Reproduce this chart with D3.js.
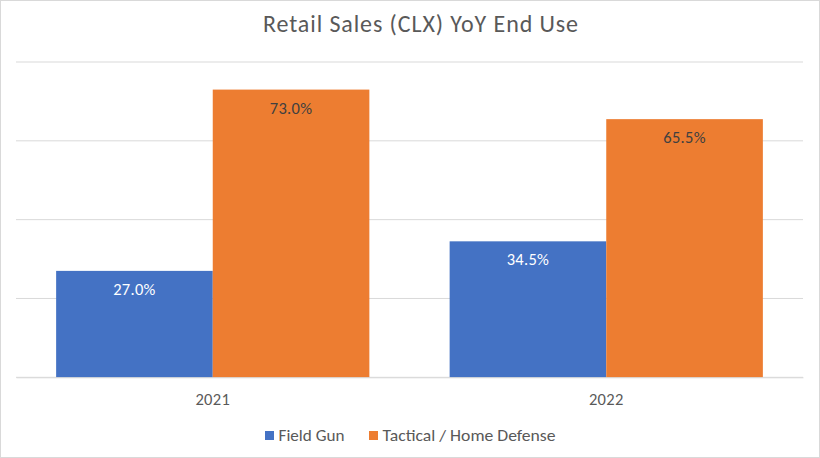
<!DOCTYPE html>
<html><head><meta charset="utf-8">
<script src="https://cdn.jsdelivr.net/npm/d3@7"></script>
<style>body{margin:0;background:#fff}svg{display:block}text{font-family:Carlito,Calibri,"Open Sans","Liberation Sans",sans-serif}</style>
</head><body><svg id="c" width="820" height="458"></svg>
<script>
const categories = ["2021", "2022"];
const seriesNames = ["Field Gun", "Tactical / Home Defense"];
const fieldGun = [27.0, 34.5];
const tactical = [73.0, 65.5];
const yTicks = [0, 20, 40, 60, 80];
const colors = ["#4472C4", "#ED7D31"];
const labelColors = ["#ffffff", "#404040"];

(function(){
const svg = d3.select("#c");
const W = 820, H = 458;
const FS = 16.5;
svg.append("rect").attr("x",0.5).attr("y",0.5).attr("width",W-1).attr("height",H-1)
  .attr("fill","#fff").attr("stroke","#d9d9d9");

const pLeft = 16, pRight = 803, pTop = 62, pBottom = 377.3;
const x0 = d3.scaleBand().domain(categories).range([pLeft, pRight]).paddingInner(0.204).paddingOuter(0.102);
const x1 = d3.scaleBand().domain(seriesNames).range([0, x0.bandwidth()]);
const y = d3.scaleLinear().domain([0, 80]).range([pBottom, pTop]);

svg.append("g").selectAll("line").data(yTicks).join("line")
  .attr("x1", pLeft).attr("x2", pRight)
  .attr("y1", d => y(d)).attr("y2", d => y(d))
  .attr("stroke", "#d9d9d9").attr("stroke-width", 1);

const data = categories.map((c, i) => ({cat: c, vals: [fieldGun[i], tactical[i]]}));
const groups = svg.append("g").selectAll("g").data(data).join("g")
  .attr("transform", d => `translate(${x0(d.cat)},0)`);
groups.selectAll("rect").data(d => d.vals.map((v, j) => ({v, j}))).join("rect")
  .attr("x", d => x1(seriesNames[d.j])).attr("width", x1.bandwidth())
  .attr("y", d => y(d.v)).attr("height", d => y(0) - y(d.v))
  .attr("fill", d => colors[d.j]);
groups.selectAll("text").data(d => d.vals.map((v, j) => ({v, j}))).join("text")
  .attr("x", d => x1(seriesNames[d.j]) + x1.bandwidth()/2)
  .attr("y", d => y(d.v) + 24)
  .attr("text-anchor", "middle").attr("font-size", FS)
  .attr("letter-spacing", 0.3)
  .attr("fill", d => labelColors[d.j])
  .text(d => d.v.toFixed(1) + "%");

const xAxis = svg.append("g").attr("transform", `translate(0,${pBottom})`)
  .call(d3.axisBottom(x0).tickSize(0).tickPadding(16));
xAxis.select(".domain").attr("stroke", "#d9d9d9");
xAxis.selectAll("text").attr("font-size", FS).attr("fill", "#595959").attr("letter-spacing", 0.3)
  .style("font-family", "Carlito,Calibri,'Open Sans','Liberation Sans',sans-serif");

svg.append("text").attr("x", 263).attr("y", 32)
  .attr("font-size", 24).attr("textLength", 315).attr("lengthAdjust", "spacing")
  .attr("fill", "#595959").text("Retail Sales (CLX) YoY End Use");

const leg = svg.append("g");
const legX = [265, 369];
const legW = [66, 173];
seriesNames.forEach((s, i) => {
  leg.append("rect").attr("x", legX[i]).attr("y", 431).attr("width", 9).attr("height", 9).attr("fill", colors[i]);
  leg.append("text").attr("x", legX[i] + 13.5).attr("y", 440.5).attr("font-size", i === 0 ? FS : 15.5)
    .attr("textLength", legW[i]).attr("lengthAdjust", "spacingAndGlyphs")
    .attr("fill", "#595959").text(s);
});
})();
</script></body></html>
